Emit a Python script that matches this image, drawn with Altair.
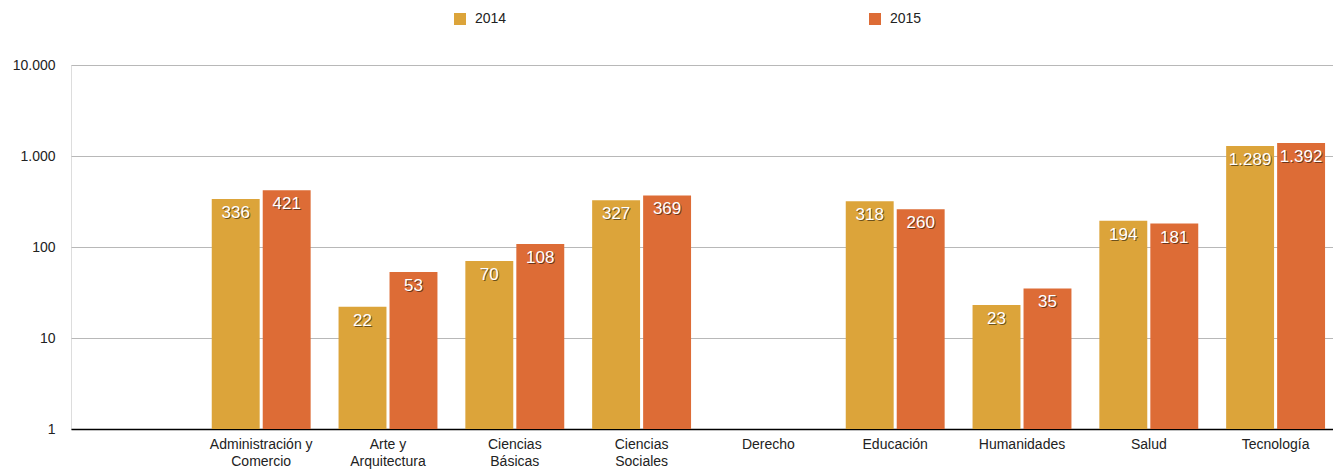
import altair as alt
import pandas as pd

categories = [" ", "Administración y\nComercio", "Arte y\nArquitectura", "Ciencias\nBásicas",
              "Ciencias\nSociales", "Derecho", "Educación", "Humanidades", "Salud", "Tecnología"]
years = ["2014", "2015"]
vals_2014 = [None, 336, 22, 70, 327, None, 318, 23, 194, 1289]
vals_2015 = [None, 421, 53, 108, 369, None, 260, 35, 181, 1392]
y_ticks = [1, 10, 100, 1000, 10000]
colors = ["#DCA43A", "#DD6C36"]

rows = []
for cat, a, b in zip(categories, vals_2014, vals_2015):
    for yr, v in (("2014", a), ("2015", b)):
        if v is not None:
            rows.append({"cat": cat, "year": yr, "value": v,
                         "label": f"{v:,}".replace(",", ".")})
df = pd.DataFrame(rows)

FONT = "Liberation Sans"

x = alt.X("cat:N", sort=categories,
          scale=alt.Scale(domain=categories, paddingInner=0.22, paddingOuter=0.11, range=[0, 1268]),
          axis=alt.Axis(title=None, labelAngle=0, ticks=False, domainColor="#000000", domainWidth=1.5,
                        labelExpr="split(datum.label, '\\n')", labelFontSize=14, labelLineHeight=17,
                        labelPadding=8, labelColor="#222222", labelFont=FONT, grid=False))
xo = alt.XOffset("year:N", scale=alt.Scale(domain=years, paddingInner=0.06, paddingOuter=0))
y = alt.Y("value:Q", scale=alt.Scale(type="log", domain=[1, 10000]),
          axis=alt.Axis(title=None, values=y_ticks, ticks=False, domain=False,
                        labelExpr="replace(format(datum.value, ','), ',', '.')",
                        labelFontSize=14, labelPadding=16, labelColor="#222222", labelFont=FONT,
                        gridColor="#b8b8b8", gridWidth=1))

bars = alt.Chart(df).mark_bar().encode(
    x=x, xOffset=xo, y=y, y2=alt.Y2(datum=1),
    color=alt.Color("year:N", scale=alt.Scale(domain=years, range=colors),
                    legend=alt.Legend(title=None, orient="none", legendX=382, legendY=-53,
                                      direction="horizontal", symbolType="square", symbolSize=144,
                                      symbolStrokeWidth=0, labelFontSize=14, labelFont=FONT,
                                      labelColor="#222222", labelOffset=8, columnPadding=361)),
)

shadow = alt.Chart(df).mark_text(baseline="middle", dy=15, dx=1, fontSize=17, font=FONT,
                                 color="#000000", opacity=0.5).encode(
    x=alt.X("cat:N", sort=categories), xOffset="year:N", y="value:Q", text="label:N")
labels = alt.Chart(df).mark_text(baseline="middle", dy=14, fontSize=17, font=FONT,
                                 color="#ffffff").encode(
    x=alt.X("cat:N", sort=categories), xOffset="year:N", y="value:Q", text="label:N")

chart = alt.layer(bars, shadow, labels).properties(
    width=1262, height=364,
    autosize=alt.AutoSizeParams(type="none"),
    padding={"left": 63, "top": 57, "right": 0, "bottom": 40},
).configure_view(stroke=None).configure(background="#ffffff")

chart.save("out.html", embed_options={"renderer": "svg", "actions": False})
